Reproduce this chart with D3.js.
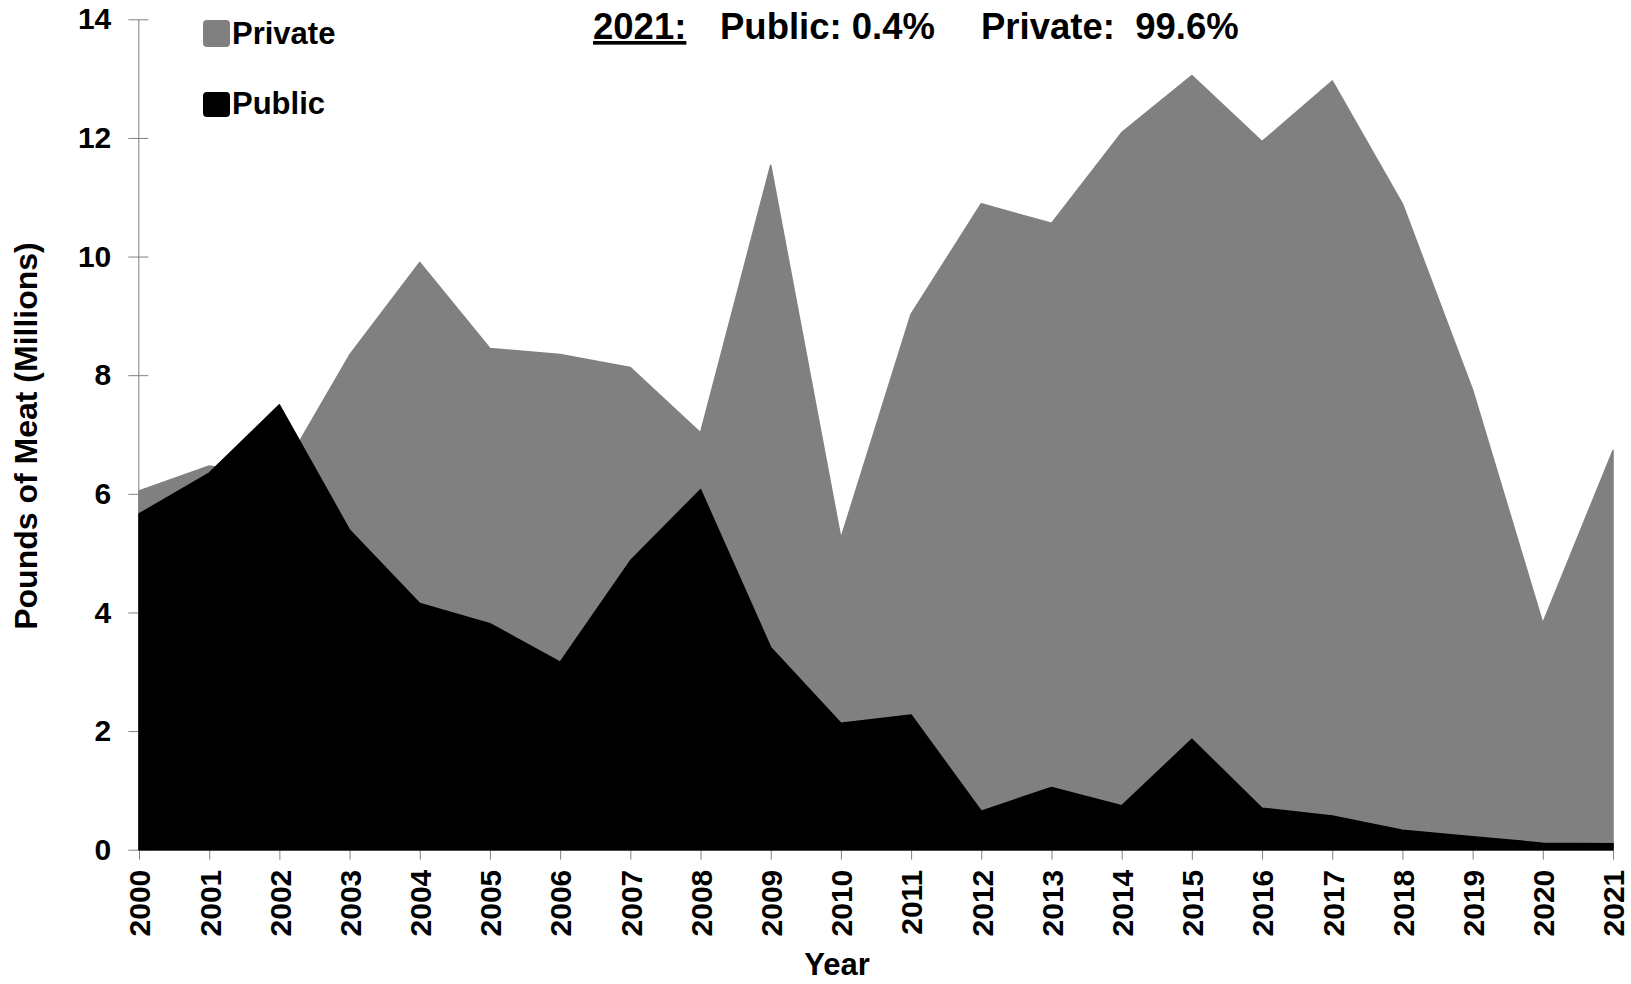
<!DOCTYPE html>
<html>
<head>
<meta charset="utf-8">
<script src="https://cdn.jsdelivr.net/npm/d3@7"></script>
<style>
    body { margin: 0; background: #fff; }
    svg { display: block; font-family: "Liberation Sans", Arial, sans-serif; font-weight: bold; }
</style>
</head>
<body>
<svg width="1631" height="984"></svg>
<script>
// Years on the x axis
const years = [2000, 2001, 2002, 2003, 2004, 2005, 2006, 2007, 2008, 2009, 2010,
               2011, 2012, 2013, 2014, 2015, 2016, 2017, 2018, 2019, 2020, 2021];

// Pounds of meat (millions)
const privateValues = [6.05, 6.47, 6.3, 8.34, 9.9, 8.45, 8.35, 8.13, 7.03, 11.54, 5.25,
                       9.03, 10.89, 10.56, 12.09, 13.05, 11.94, 12.96, 10.89, 7.75, 3.82, 6.73];
const publicValues = [5.66, 6.35, 7.5, 5.39, 4.15, 3.81, 3.16, 4.87, 6.07, 3.41, 2.13,
                      2.27, 0.65, 1.05, 0.74, 1.86, 0.7, 0.57, 0.33, 0.22, 0.11, 0.1];

const yTicks = [0, 2, 4, 6, 8, 10, 12, 14];

const series = [
    { name: "Private", values: privateValues, color: "#808080" },
    { name: "Public", values: publicValues, color: "#000000" }
];

const svg = d3.select("svg");

const x = d3.scaleLinear().domain([2000, 2021]).range([139, 1613]);
const y = d3.scaleLinear().domain([0, 14]).range([849.7, 19.3]);

// Y axis, ticks cross the line
const yAxis = svg.append("g")
    .attr("transform", `translate(${x(2000) - 0.7},0)`)
    .call(d3.axisLeft(y).tickValues(yTicks).tickSizeInner(10).tickSizeOuter(0).tickPadding(17));
yAxis.selectAll("line").attr("x1", 10);
yAxis.select(".domain").attr("stroke", "#808080");
yAxis.selectAll(".tick line").attr("stroke", "#808080");
yAxis.selectAll("text")
    .style("font-size", "30px")
    .style("font-weight", "bold")
    .style("font-family", "Liberation Sans, Arial, sans-serif")
    .attr("fill", "#000");

// X axis, labels rotated
const xAxis = svg.append("g")
    .attr("transform", `translate(0,${y(0)})`)
    .call(d3.axisBottom(x).tickValues(years).tickFormat(d3.format("d")).tickSizeInner(10).tickSizeOuter(0));
xAxis.select(".domain").attr("stroke", "#808080");
xAxis.selectAll(".tick line").attr("stroke", "#808080").attr("y1", -8);
xAxis.selectAll("text")
    .attr("transform", "rotate(-90)")
    .attr("text-anchor", "end")
    .attr("x", -20)
    .attr("y", 0)
    .attr("dy", "0.36em")
    .style("font-size", "30px")
    .style("font-weight", "bold")
    .style("font-family", "Liberation Sans, Arial, sans-serif")
    .attr("fill", "#000");

// Overlapping areas: private behind, public in front
const area = d3.area()
    .x((d, i) => x(years[i]))
    .y0(y(0))
    .y1(d => y(d));

svg.append("g")
    .selectAll("path")
    .data(series)
    .join("path")
    .attr("d", d => area(d.values))
    .attr("fill", d => d.color)
    .attr("stroke", d => d.color)
    .attr("stroke-width", 1.5)
    .attr("stroke-linejoin", "round");

// Legend
const legend = svg.append("g")
    .selectAll("g")
    .data(series)
    .join("g")
    .attr("transform", (d, i) => `translate(203,${i === 0 ? 20 : 92})`);

legend.append("rect")
    .attr("width", 27)
    .attr("height", (d, i) => i === 0 ? 27 : 25)
    .attr("rx", 4)
    .attr("fill", d => d.color);

legend.append("text")
    .attr("x", 29)
    .attr("y", (d, i) => i === 0 ? 24 : 22)
    .style("font-size", "31px")
    .text(d => d.name);

// Headline note
const note = svg.append("g").style("font-size", "36.5px");
note.append("text")
    .attr("x", 593).attr("y", 39)
    .attr("text-decoration", "underline")
    .text("2021:");
note.append("text")
    .attr("x", 720).attr("y", 39)
    .text("Public: 0.4%");
note.append("text")
    .attr("x", 981).attr("y", 39)
    .attr("xml:space", "preserve")
    .style("white-space", "pre")
    .text("Private:  99.6%");

// Axis titles
svg.append("text")
    .attr("x", 837)
    .attr("y", 975)
    .attr("text-anchor", "middle")
    .style("font-size", "31px")
    .text("Year");

svg.append("text")
    .attr("transform", "translate(37,436) rotate(-90)")
    .attr("text-anchor", "middle")
    .style("font-size", "32px")
    .text("Pounds of Meat (Millions)");
</script>
</body>
</html>
